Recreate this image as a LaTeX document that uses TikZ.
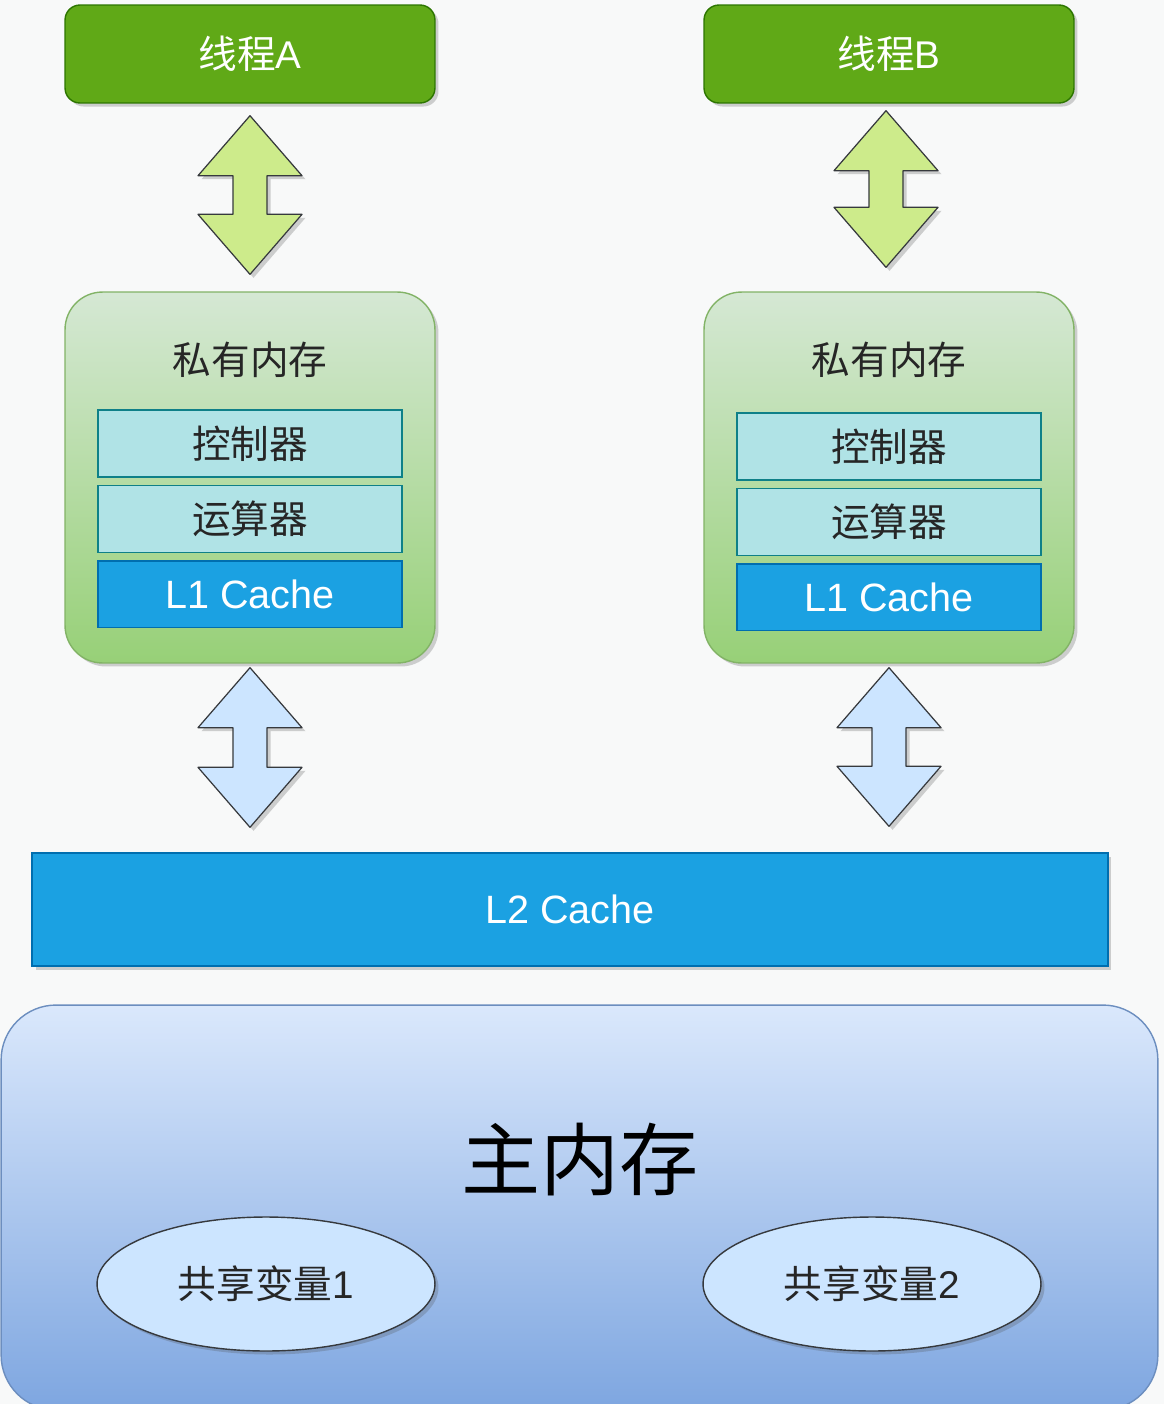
\documentclass[tikz,border=0pt]{standalone}
\usepackage{fontspec}
\setmainfont{Liberation Sans}
\newfontfamily\cjk{Noto Sans CJK SC}
\usetikzlibrary{positioning,calc,shadows,shapes.geometric}

\definecolor{bgcol}{HTML}{F8F9F9}
\definecolor{threadfill}{HTML}{60A917}
\definecolor{threadline}{HTML}{2D7600}
\definecolor{privtop}{HTML}{D5E8D4}
\definecolor{privbot}{HTML}{97D077}
\definecolor{privline}{HTML}{82B366}
\definecolor{unitfill}{HTML}{B0E3E6}
\definecolor{unitline}{HTML}{0E8088}
\definecolor{cachefill}{HTML}{1BA1E2}
\definecolor{cacheline}{HTML}{006EAF}
\definecolor{maintop}{HTML}{DAE8FC}
\definecolor{mainbot}{HTML}{7EA6E0}
\definecolor{mainline}{HTML}{6C8EBF}
\definecolor{greenarr}{HTML}{CDEB8B}
\definecolor{bluearr}{HTML}{CCE5FF}
\definecolor{darkline}{HTML}{36393D}

\tikzset{
  softshadow/.style={drop shadow={shadow xshift=2pt,shadow yshift=-2pt,opacity=0.25,fill=black!70}},
  thread/.style={draw=threadline, fill=threadfill, line width=0.8pt, rounded corners=0.3cm,
    minimum width=7.4cm, minimum height=1.96cm, text=white,
    font=\cjk\fontsize{22}{26}\selectfont, softshadow},
  private/.style={draw=privline, top color=privtop, bottom color=privbot, line width=0.8pt,
    rounded corners=0.75cm, minimum width=7.4cm, minimum height=7.42cm, softshadow},
  title/.style={font=\cjk\fontsize{22}{26}\selectfont, text=black!85},
  unitbox/.style={draw=unitline, fill=unitfill, line width=0.8pt, minimum width=6.08cm,
    minimum height=1.34cm, font=\cjk\fontsize{22}{26}\selectfont, text=black!85},
  cachebox/.style={draw=cacheline, fill=cachefill, line width=0.8pt, text=white,
    font=\fontsize{22.5}{27}\selectfont},
  mainmem/.style={draw=mainline, top color=maintop, bottom color=mainbot, line width=0.8pt,
    rounded corners=1.1cm, minimum width=23.14cm, minimum height=8.1cm},
  sharedvar/.style={ellipse, draw=darkline, fill=bluearr, line width=0.8pt,
    minimum width=6.76cm, minimum height=2.68cm, font=\cjk\fontsize{22}{26}\selectfont,
    text=black!85, softshadow},
  greenway/.style={draw=darkline, fill=greenarr, line width=0.7pt, line join=round, softshadow},
  blueway/.style={draw=darkline, fill=bluearr, line width=0.7pt, line join=round, softshadow}
}

% two-headed block arrow from top tip #1 to bottom tip #2
\newcommand{\bothways}[3]{%
  \path[#3] (#1) -- ($(#1)+(52,60)$) -- ($(#1)+(17,60)$) -- ($(#2)+(17,-60)$)
    -- ($(#2)+(52,-60)$) -- (#2) -- ($(#2)+(-52,-60)$) -- ($(#2)+(-17,-60)$)
    -- ($(#1)+(-17,60)$) -- ($(#1)+(-52,60)$) -- cycle;}

\begin{document}
\begin{tikzpicture}[x=0.02cm,y=-0.02cm]

\useasboundingbox (0,0) rectangle (1164,1404);
\fill[bgcol] (0,0) rectangle (1164,1404);

% threads
\node[thread] (threadA) at (250,54) {线程\rmfamily A};
\node[thread] (threadB) at (889,54) {线程\rmfamily B};

% private memory of each thread
\node[private] (privA) at (250,477.5) {};
\node[private] (privB) at (889,477.5) {};
\node[title] (titleA) at (250,360) {私有内存};
\node[title] (titleB) at (889,360) {私有内存};

\node[unitbox] (ctrlA) at (250,443.5) {控制器};
\node[unitbox, below=0.14cm of ctrlA] (aluA) {运算器};
\node[cachebox, minimum width=6.08cm, minimum height=1.34cm, below=0.14cm of aluA] (lA) {L1 Cache};

\node[unitbox] (ctrlB) at (889,446.5) {控制器};
\node[unitbox, below=0.14cm of ctrlB] (aluB) {运算器};
\node[cachebox, minimum width=6.08cm, minimum height=1.34cm, below=0.14cm of aluB] (lB) {L1 Cache};

% shared cache and main memory
\node[cachebox, minimum width=21.52cm, minimum height=2.26cm, softshadow] (ltwo) at (570,909.5) {L2 Cache};
\node[mainmem] (mem) at (579.5,1207.5) {};
\node[font=\cjk\fontsize{45}{50}\selectfont] (memtitle) at (580,1160) {主内存};
\node[sharedvar] (varA) at (266,1284) {共享变量\rmfamily 1};
\node[sharedvar] (varB) at (872,1284) {共享变量\rmfamily 2};

% arrows
\coordinate (gA1) at ($(threadA.south)+(0,12)$);
\coordinate (gA2) at ($(privA.north)+(0,-17)$);
\coordinate (gB1) at ($(threadB.south)+(-3,7)$);
\coordinate (gB2) at ($(privB.north)+(-3,-24)$);
\bothways{gA1}{gA2}{greenway}
\bothways{gB1}{gB2}{greenway}

\coordinate (bA1) at ($(privA.south)+(0,4)$);
\coordinate (bA2) at ($(privA.south |- ltwo.north)+(0,-25)$);
\coordinate (bB1) at ($(privB.south)+(0,4)$);
\coordinate (bB2) at ($(privB.south |- ltwo.north)+(0,-26)$);
\bothways{bA1}{bA2}{blueway}
\bothways{bB1}{bB2}{blueway}

\end{tikzpicture}
\end{document}
